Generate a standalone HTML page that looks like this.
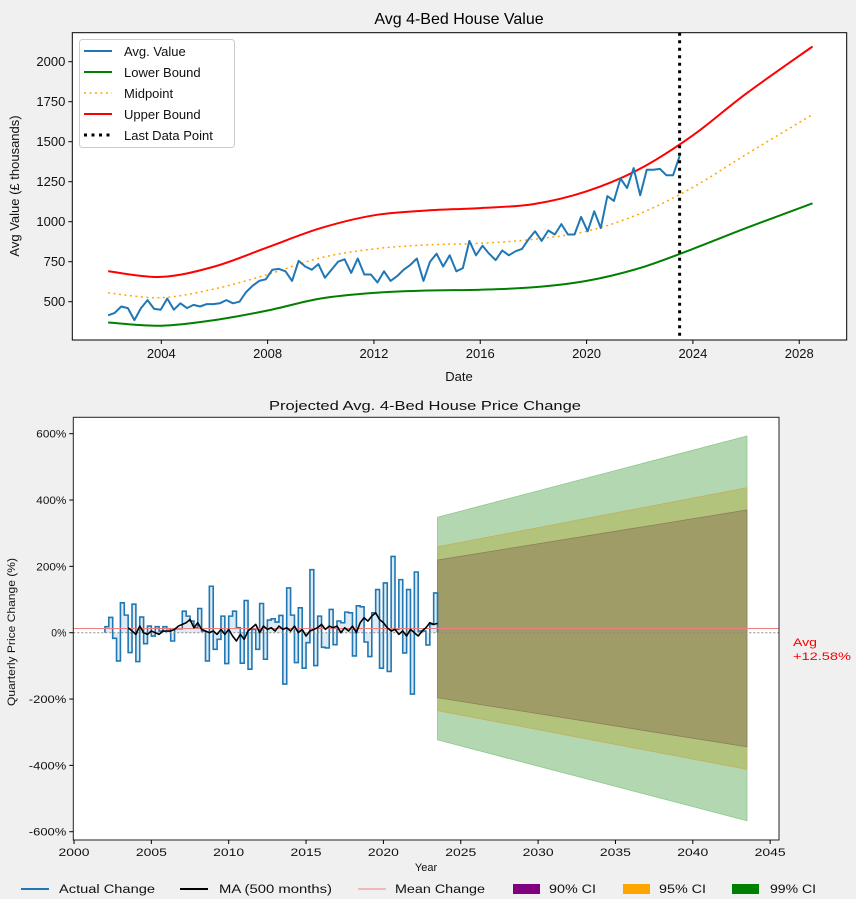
<!DOCTYPE html>
<html><head><meta charset="utf-8"><style>
html,body{margin:0;padding:0;background:#f0f0f0;}
svg{display:block;font-family:"Liberation Sans","DejaVu Sans",sans-serif;}
</style></head><body>
<svg id="fig" width="856" height="899" viewBox="0 0 856 899" xmlns="http://www.w3.org/2000/svg">
<rect x="0" y="0" width="856" height="899" fill="#f0f0f0"/>
<g id="top"></g>
<g id="bot"></g>
</svg>
<script>
// ---------- TOP CHART DATA ----------
const valueStart = 2002, valueEnd = 2023.5;
const avgValues = [415,430,470,460,385,460,510,455,450,520,450,490,460,480,470,485,485,490,510,490,500,560,600,630,640,700,705,690,630,755,720,700,735,650,700,750,765,680,770,670,670,620,690,630,660,700,730,770,630,750,800,720,790,690,710,880,790,850,800,760,820,790,815,830,890,940,880,945,920,985,920,920,1030,940,1065,960,1160,1130,1270,1210,1335,1165,1325,1325,1330,1290,1290,1410];
const boundYears = [2002,2004,2006,2008,2010,2012,2014,2016,2018,2020,2022,2024,2026,2028.5];
const upperBound = [690,655,720,840,960,1040,1070,1085,1110,1190,1330,1540,1800,2095];
const midpoint  = [555,525,580,670,775,830,855,865,890,940,1050,1215,1420,1670];
const lowerBound = [370,350,385,445,520,555,570,575,590,630,710,830,960,1115];
const lastDataYear = 2023.5;
const topXTicks = [2004,2008,2012,2016,2020,2024,2028];
const topYTicks = [500,750,1000,1250,1500,1750,2000];

// ---------- BOTTOM CHART DATA ----------
const changeStart = 2002, changeStep = 0.25;
const quarterlyChange = [18,46,-17,-85,90,53,-60,86,-87,47,-33,20,-10,18,5,18,12,-25,12,12,65,50,35,15,73,5,-85,140,-50,-20,50,-93,50,65,15,-92,97,-110,10,-50,88,-80,38,42,32,52,-155,135,53,-90,75,-107,-30,190,-99,50,-44,-46,70,-36,35,30,62,60,-70,81,78,-28,-72,60,130,-107,150,-117,230,10,160,-61,130,-185,183,5,5,-37,25,120];
const maStart = 2003.5, maEnd = 2023.5;
const maValues = [15,5,-5,20,0,-5,5,0,-5,5,5,5,10,20,25,30,40,15,30,10,5,0,5,-5,10,-5,10,-10,-25,-5,-20,5,15,25,0,20,10,15,5,20,10,15,5,20,0,10,-10,5,10,15,25,10,20,15,20,0,15,5,20,0,30,45,35,50,60,40,30,15,5,10,-5,5,-10,10,0,-10,5,15,30,25,28];
const meanChange = 12.58;
const ciYears = [2023.5, 2043.5];
const ci99Upper = [348,593], ci99Lower = [-323,-567];
const ci95Upper = [259,437], ci95Lower = [-235,-412];
const ci90Upper = [219,370], ci90Lower = [-196,-344];
const botXTicks = [2000,2005,2010,2015,2020,2025,2030,2035,2040,2045];
const botYTicks = [-600,-400,-200,0,200,400,600];

const NS="http://www.w3.org/2000/svg";
function mk(parent,tag,attrs,text){const e=document.createElementNS(NS,tag);for(const k in attrs)e.setAttribute(k,attrs[k]);if(text!==undefined)e.textContent=text;parent.appendChild(e);return e;}
function smooth(pts){let d="M"+pts[0][0]+","+pts[0][1];for(let i=0;i<pts.length-1;i++){const p0=pts[i-1]||pts[i],p1=pts[i],p2=pts[i+1],p3=pts[i+2]||p2;const c1x=p1[0]+(p2[0]-p0[0])/6,c1y=p1[1]+(p2[1]-p0[1])/6,c2x=p2[0]-(p3[0]-p1[0])/6,c2y=p2[1]-(p3[1]-p1[1])/6;d+=" C"+c1x+","+c1y+" "+c2x+","+c2y+" "+p2[0]+","+p2[1];}return d;}

// ---------- TOP ----------
(function(){
const g=document.getElementById('top');
const L=72.3,R=846.7,T=32.7,B=340;
const x=yr=>161.3+(yr-2004)*26.58;
const y=v=>301.7-(v-500)*0.16;
let e;
e=mk(g,'rect',{x:L,y:T,width:R-L,height:B-T,fill:'#fff'});


const series=[[upperBound,'red','none','upper-bound-line'],[midpoint,'orange','2,3.5','midpoint-line'],[lowerBound,'green','none','lower-bound-line']];
series.forEach(s=>{
 const pts=boundYears.map((yr,i)=>[x(yr),y(s[0][i])]);
 e=mk(g,'path',{d:smooth(pts),fill:'none',stroke:s[1],'stroke-width':s[1]==='orange'?1.5:2,'stroke-dasharray':s[2]});
 
 
});
const n=avgValues.length;
const ap=avgValues.map((v,i)=>(i?'L':'M')+x(valueStart+i*(valueEnd-valueStart)/(n-1)).toFixed(2)+','+y(v).toFixed(2)).join(' ');
e=mk(g,'path',{d:ap,fill:'none',stroke:'#1f77b4','stroke-width':2,'stroke-linejoin':'round'});


e=mk(g,'line',{x1:x(lastDataYear),x2:x(lastDataYear),y1:T,y2:B,stroke:'#000','stroke-width':3,'stroke-dasharray':'3,4.5'});


e=mk(g,'rect',{x:L,y:T,width:R-L,height:B-T,fill:'none',stroke:'#000','stroke-width':1});


topXTicks.forEach(t=>{
 e=mk(g,'line',{x1:x(t),x2:x(t),y1:B,y2:B+4,stroke:'#000'});
 
 
 e=mk(g,'text',{x:x(t),y:B+18,'font-size':13,'text-anchor':'middle',fill:'#111'},String(t));
 
 
});
topYTicks.forEach(t=>{
 e=mk(g,'line',{x1:L-4,x2:L,y1:y(t),y2:y(t),stroke:'#000'});
 
 
 e=mk(g,'text',{x:L-7,y:y(t)+4.5,'font-size':13,'text-anchor':'end',fill:'#111'},String(t));
 
 
});
e=mk(g,'text',{x:459,y:24,'font-size':16,'text-anchor':'middle',fill:'#000'},'Avg 4-Bed House Value');


e=mk(g,'text',{x:459,y:381,'font-size':13,'text-anchor':'middle',fill:'#111'},'Date');


e=mk(g,'text',{x:0,y:0,'font-size':13,'text-anchor':'middle',fill:'#111',transform:'translate(19,186) rotate(-90)'},'Avg Value (£ thousands)');


const lg=mk(g,'g',{});


mk(lg,'rect',{x:79.5,y:39.5,width:155,height:108,rx:3,fill:'#fff',stroke:'#ccc'});
const items=[['Avg. Value','#1f77b4','none',2],['Lower Bound','green','none',2],['Midpoint','orange','2,3.5',1.5],['Upper Bound','red','none',2],['Last Data Point','#000','3,4.5',3]];
items.forEach((it,i)=>{
 const yy=51+i*21;
 e=mk(lg,'line',{x1:84,x2:112,y1:yy,y2:yy,stroke:it[1],'stroke-width':it[3],'stroke-dasharray':it[2]});
 
 
 e=mk(lg,'text',{x:124,y:yy+5,'font-size':13,fill:'#111'},it[0]);
 
 
});
})();

// ---------- BOTTOM ----------
(function(){
const g=document.getElementById('bot');
const L=73.3,R=779,T=417.3,B=840;
const x=yr=>74+(yr-2000)*15.47;
const y=v=>632.7-v*0.3317;
let e;
e=mk(g,'rect',{x:L,y:T,width:R-L,height:B-T,fill:'#fff'});


const bands=[[ci99Upper,ci99Lower,'#b3d8b1','#8cc68c','ci-99-band'],[ci95Upper,ci95Lower,'#b2c37b','#c0b060','ci-95-band'],[ci90Upper,ci90Lower,'#9f9c67','#8a8058','ci-90-band']];
bands.forEach(b=>{
 const pts=[[x(ciYears[0]),y(b[0][0])],[x(ciYears[1]),y(b[0][1])],[x(ciYears[1]),y(b[1][1])],[x(ciYears[0]),y(b[1][0])]];
 e=mk(g,'polygon',{points:pts.map(p=>p.join(',')).join(' '),fill:b[2],stroke:b[3],'stroke-width':0.8});
 
 
});
let d='M'+x(changeStart)+','+y(0);
quarterlyChange.forEach((v,i)=>{const x0=x(changeStart+i*changeStep),x1=x(changeStart+(i+1)*changeStep);d+=' L'+x0.toFixed(2)+','+y(v).toFixed(2)+' L'+x1.toFixed(2)+','+y(v).toFixed(2);});
const xe=x(changeStart+quarterlyChange.length*changeStep);
e=mk(g,'path',{d:d+' L'+xe+','+y(0)+' Z',fill:'rgba(31,119,180,0.15)',stroke:'none'});


e=mk(g,'path',{d:d+' L'+xe+','+y(0),fill:'none',stroke:'#1f77b4','stroke-width':1.6});


e=mk(g,'line',{x1:L,x2:R,y1:y(0),y2:y(0),stroke:'#888','stroke-width':1,'stroke-dasharray':'2,2'});


e=mk(g,'line',{x1:L,x2:R,y1:y(meanChange),y2:y(meanChange),stroke:'#f08080','stroke-width':1});


const m=maValues.length;
const mp=maValues.map((v,i)=>(i?'L':'M')+x(maStart+i*(maEnd-maStart)/(m-1)).toFixed(2)+','+y(v).toFixed(2)).join(' ');
e=mk(g,'path',{d:mp,fill:'none',stroke:'#000','stroke-width':1.6,'stroke-linejoin':'round'});


e=mk(g,'rect',{x:L,y:T,width:R-L,height:B-T,fill:'none',stroke:'#222','stroke-width':1});


botXTicks.forEach(t=>{
 e=mk(g,'line',{x1:x(t),x2:x(t),y1:B,y2:B+4,stroke:'#000'});
 
 
 e=mk(g,'text',{x:x(t),y:B+16,'font-size':11,'text-anchor':'middle',fill:'#111',textLength:31,lengthAdjust:'spacingAndGlyphs'},String(t));
 
 
});
botYTicks.forEach(t=>{
 e=mk(g,'line',{x1:L-4,x2:L,y1:y(t),y2:y(t),stroke:'#000'});
 
 
 const s=t+'%';
 e=mk(g,'text',{x:L-7,y:y(t)+4,'font-size':11,'text-anchor':'end',fill:'#111',textLength:s.length*7.5,lengthAdjust:'spacingAndGlyphs'},s);
 
 
});
e=mk(g,'text',{x:425,y:410,'font-size':13,'text-anchor':'middle',fill:'#111',textLength:312,lengthAdjust:'spacingAndGlyphs'},'Projected Avg. 4-Bed House Price Change');


e=mk(g,'text',{x:426,y:871,'font-size':11,'text-anchor':'middle',fill:'#111'},'Year');


e=mk(g,'text',{x:0,y:0,'font-size':11,'text-anchor':'middle',fill:'#111',transform:'translate(15,632) rotate(-90)',textLength:148,lengthAdjust:'spacingAndGlyphs'},'Quarterly Price Change (%)');


e=mk(g,'text',{x:793,y:646,'font-size':11,fill:'red',textLength:24,lengthAdjust:'spacingAndGlyphs'},'Avg');


e=mk(g,'text',{x:793,y:660,'font-size':11,fill:'red',textLength:58,lengthAdjust:'spacingAndGlyphs'},'+'+meanChange.toFixed(2)+'%');


const lg=mk(g,'g',{});


const ly=889;
const li=[['line',21,'#1f77b4',2,59,'Actual Change',96],['line',180,'#000',2,219,'MA (500 months)',113],['line',358,'#f08080',1,395,'Mean Change',90],['rect',513,'purple',0,549,'90% CI',47],['rect',623,'orange',0,659,'95% CI',47],['rect',732,'green',0,770,'99% CI',46]];
li.forEach(it=>{
 if(it[0]==='line'){e=mk(lg,'line',{x1:it[1],x2:it[1]+28,y1:ly,y2:ly,stroke:it[2],'stroke-width':it[3]});}
 else{e=mk(lg,'rect',{x:it[1],y:ly-5,width:27,height:10,fill:it[2]});}
 
 
 e=mk(lg,'text',{x:it[4],y:ly+4,'font-size':11.5,fill:'#111',textLength:it[6],lengthAdjust:'spacingAndGlyphs'},it[5]);
 
 
});
})();
</script>
</body></html>
